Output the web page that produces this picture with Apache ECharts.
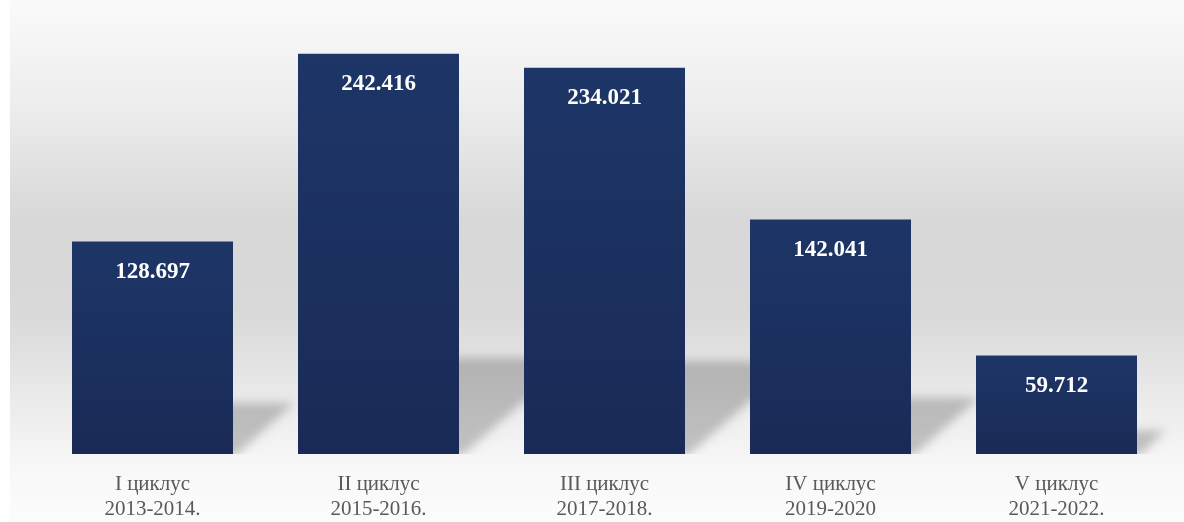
<!DOCTYPE html>
<html>
<head>
<meta charset="utf-8">
<script src="https://cdn.jsdelivr.net/npm/echarts@6/dist/echarts.min.js"></script>
<style>
html,body{margin:0;padding:0;background:#fff;}
#c{width:1184px;height:522px;}
</style>
</head>
<body>
<div id="c"></div>
<script>
var categories = ['I циклус\n2013-2014.', 'II циклус\n2015-2016.', 'III циклус\n2017-2018.', 'IV циклус\n2019-2020', 'V циклус\n2021-2022.'];
var values = [128.697, 242.416, 234.021, 142.041, 59.712];

var chart = echarts.init(document.getElementById('c'));
var BAR_W = 161;
var OFF = 3000;

chart.setOption({
  animation: false,
  backgroundColor: '#ffffff',
  graphic: [{
    type: 'rect',
    z: -100,
    silent: true,
    shape: {x: 10, y: 0, width: 1174, height: 522},
    style: {
      fill: new echarts.graphic.LinearGradient(0, 0, 0, 1, [
        {offset: 0, color: '#fafafa'},
        {offset: 0.2, color: '#ededed'},
        {offset: 0.42, color: '#d8d8d8'},
        {offset: 0.6, color: '#d9d9d9'},
        {offset: 0.8, color: '#eeeeee'},
        {offset: 0.9, color: '#f8f8f8'},
        {offset: 1, color: '#fcfcfc'}
      ])
    }
  }],
  grid: {left: 39.5, right: 14.5, top: 41.25, bottom: 67, containLabel: false},
  xAxis: {
    type: 'category',
    data: categories,
    axisLine: {show: false},
    axisTick: {show: false},
    axisLabel: {
      color: '#595959',
      fontFamily: 'Liberation Serif',
      fontSize: 21,
      lineHeight: 25,
      margin: 18,
      interval: 0
    }
  },
  yAxis: {type: 'value', min: 0, max: 250, show: false, splitLine: {show: false}},
  series: [
    {
      type: 'custom',
      coordinateSystem: 'cartesian2d',
      z: 1,
      silent: true,
      clip: false,
      encode: {x: 0, y: 1},
      data: values.map(function (v, i) { return [i, v]; }),
      renderItem: function (params, api) {
        var i = api.value(0);
        var v = api.value(1);
        var base = api.coord([i, 0]);
        var top = api.coord([i, v]);
        var h = base[1] - top[1];
        var hs = h * 0.24;
        var dx = hs * 1.2;
        var x1 = base[0] + BAR_W / 2, yb = base[1];
        return {
          type: 'group',
          clipPath: {type: 'rect', shape: {x: x1, y: 0, width: 400, height: base[1]}},
          children: [{
            type: 'polygon',
            shape: {points: [[x1 - 40 - OFF, yb + 2], [x1 + 2 - OFF, yb + 2], [x1 + dx - OFF, yb - hs], [x1 - 40 - OFF, yb - hs]]},
            style: {
              fill: '#000',
              shadowBlur: 10,
              shadowOffsetX: OFF,
              shadowColor: 'rgba(0,0,0,0.21)'
            }
          }]
        };
      }
    },
    {
      type: 'bar',
      z: 3,
      barWidth: BAR_W,
      data: values,
      itemStyle: {
        color: new echarts.graphic.LinearGradient(0, 0, 0, 1, [
          {offset: 0, color: '#1d3667'},
          {offset: 1, color: '#1a2a56'}
        ])
      },
      label: {
        show: true,
        position: 'insideTop',
        distance: 19,
        color: '#ffffff',
        fontFamily: 'Liberation Serif',
        fontWeight: 'bold',
        fontSize: 23,
        formatter: function (p) { return p.value.toFixed(3); }
      }
    }
  ]
});
</script>
</body>
</html>
